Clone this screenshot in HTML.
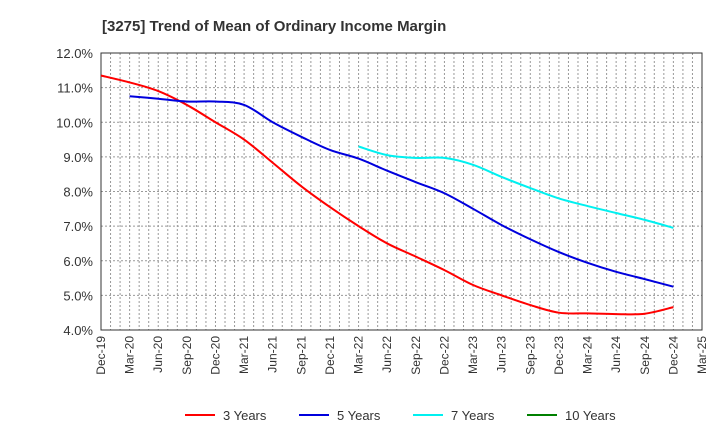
<!DOCTYPE html>
<html><head><meta charset="utf-8"><style>
body{margin:0;background:#fff;font-family:"Liberation Sans",sans-serif;}
</style></head><body>
<svg id="chart" width="720" height="440" xmlns="http://www.w3.org/2000/svg" font-family="Liberation Sans, sans-serif">
<text x="102" y="31" font-size="15" font-weight="bold" fill="#333">[3275]  Trend of Mean of Ordinary Income Margin</text>
<g id="grid"></g><g id="axes"></g><g id="series"></g>
<g id="legend"></g>
</svg>
<script>
const yTicks=[4,5,6,7,8,9,10,11,12];
const xLabels=["Dec-19","Mar-20","Jun-20","Sep-20","Dec-20","Mar-21","Jun-21","Sep-21","Dec-21","Mar-22","Jun-22","Sep-22","Dec-22","Mar-23","Jun-23","Sep-23","Dec-23","Mar-24","Jun-24","Sep-24","Dec-24","Mar-25"];
const s3=[11.35,11.15,10.9,10.5,10.0,9.5,8.83,8.15,7.55,7.0,6.5,6.12,5.73,5.3,5.0,4.72,4.5,4.48,4.46,4.47,4.66];
const s5=[null,10.75,10.68,10.6,10.6,10.5,10.0,9.58,9.2,8.95,8.6,8.27,7.95,7.5,7.03,6.62,6.25,5.94,5.68,5.47,5.25];
const s7=[null,null,null,null,null,null,null,null,null,9.3,9.05,8.97,8.97,8.77,8.42,8.1,7.8,7.58,7.38,7.18,6.95];
const L=101,R=702,T=53,B=330,NM=63;
const ns="http://www.w3.org/2000/svg";
function X(q){return L+q*3*(R-L)/NM;}
function Y(v){return B-(v-4)/8*(B-T);}
function mk(tag,attrs,parent){const e=document.createElementNS(ns,tag);for(const k in attrs)e.setAttribute(k,attrs[k]);document.getElementById(parent).appendChild(e);return e;}
for(let m=1;m<NM;m++){const x=L+m*(R-L)/NM;
 const g=mk('line',{x1:x,x2:x,y1:T,y2:B,stroke:'#999','stroke-dasharray':'2,2','stroke-width':1},'grid');
 
 }
yTicks.forEach(v=>{const y=Y(v);
 const g=mk('line',{x1:L,x2:R,y1:y,y2:y,stroke:'#999','stroke-dasharray':'2,2','stroke-width':1},'grid');
 
 
 const t=mk('text',{x:L-8,y:y+5,'text-anchor':'end','font-size':13,fill:'#333'},'axes');
 t.textContent=v.toFixed(1)+'%';
 
 });
const fr=mk('rect',{x:L,y:T,width:R-L,height:B-T,fill:'none',stroke:'#333','stroke-width':1},'axes');


xLabels.forEach((l,i)=>{const x=X(i);
 const t=mk('text',{transform:`translate(${x+4},${B+6}) rotate(-90)`,'text-anchor':'end','font-size':12,fill:'#333'},'axes');
 t.textContent=l;
 
 });
function path(arr){const p=[];arr.forEach((v,i)=>{if(v!=null)p.push([X(i),Y(v)]);});
 let d=`M${p[0][0]},${p[0][1]}`;
 for(let i=0;i<p.length-1;i++){const p0=p[Math.max(0,i-1)],p1=p[i],p2=p[i+1],p3=p[Math.min(p.length-1,i+2)];
  d+=` C${p1[0]+(p2[0]-p0[0])/6},${p1[1]+(p2[1]-p0[1])/6} ${p2[0]-(p3[0]-p1[0])/6},${p2[1]-(p3[1]-p1[1])/6} ${p2[0]},${p2[1]}`;}
 return d;}
[[s3,'#ff0000','series-3-years'],[s5,'#0000dd','series-5-years'],[s7,'#00f0f0','series-7-years']].forEach(([a,c,n])=>{
 const e=mk('path',{d:path(a),fill:'none',stroke:c,'stroke-width':2},'series');
 
 });
const leg=[["3 Years","#ff0000",185],["5 Years","#0000dd",299],["7 Years","#00f0f0",413],["10 Years","#008000",527]];
leg.forEach(([l,c,x])=>{
 const e=mk('line',{x1:x,x2:x+30,y1:415,y2:415,stroke:c,'stroke-width':2},'legend');
 
 
 const t=mk('text',{x:x+38,y:420,'font-size':13,fill:'#333'},'legend');
 t.textContent=l;
 
 });
</script>
</body></html>
